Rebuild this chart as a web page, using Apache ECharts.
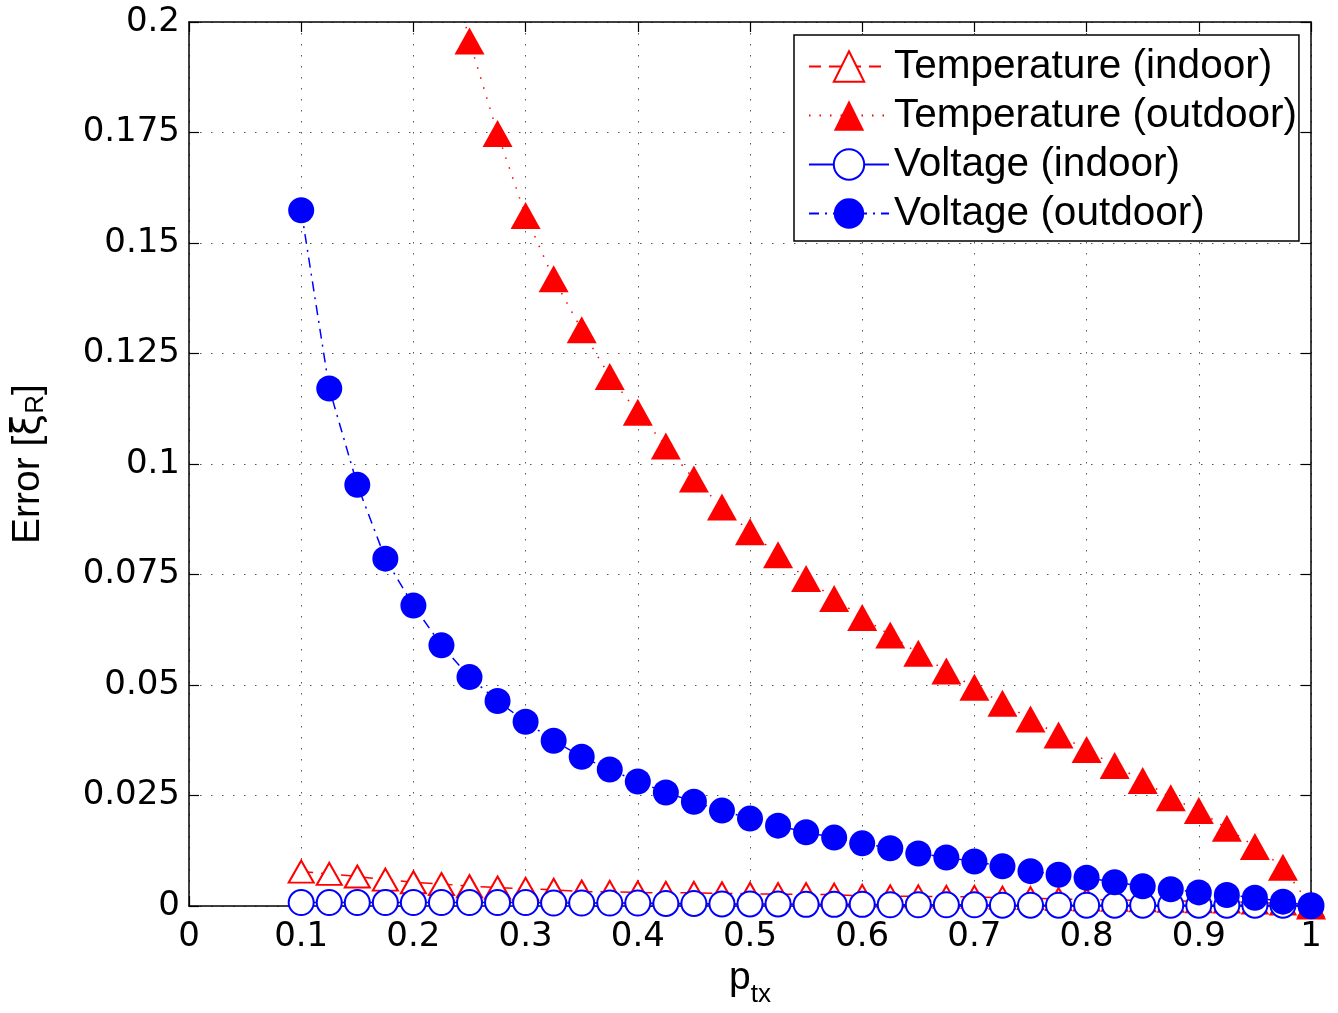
<!DOCTYPE html>
<html>
<head>
<meta charset="utf-8">
<script src="https://cdn.jsdelivr.net/npm/echarts@6/dist/echarts.min.js"></script>
<style>
html,body{margin:0;padding:0;background:#fff;overflow:hidden;}
#chart{width:1338px;height:1013px;}
</style>
</head>
<body>
<div id="chart"></div>
<script>
// ---- data ----
const pTx = [0.1,0.125,0.15,0.175,0.2,0.225,0.25,0.275,0.3,0.325,0.35,0.375,0.4,0.425,0.45,0.475,0.5,0.525,0.55,0.575,0.6,0.625,0.65,0.675,0.7,0.725,0.75,0.775,0.8,0.825,0.85,0.875,0.9,0.925,0.95,0.975,1.0];
const tempIndoor = [0.0078,0.0073,0.0067,0.0060,0.0054,0.0050,0.0045,0.0042,0.0039,0.0037,0.0033,0.0032,0.0031,0.0030,0.0030,0.0029,0.0028,0.0027,0.0027,0.0026,0.0023,0.0022,0.0022,0.0021,0.0021,0.0019,0.0018,0.0016,0.0015,0.0014,0.0013,0.0012,0.0011,0.0010,0.0008,0.0006,0.0002];
const tempOutdoor = [null,null,null,null,null,0.222,0.1957,0.1748,0.1562,0.1419,0.1304,0.1198,0.1117,0.1041,0.0966,0.0903,0.0847,0.0795,0.0741,0.0696,0.0653,0.0613,0.0572,0.0532,0.0495,0.0459,0.0423,0.0387,0.0354,0.0318,0.0284,0.0245,0.0216,0.0176,0.0135,0.0088,0.0];
const voltIndoor = [0.0008,0.0008,0.0008,0.0008,0.0008,0.0008,0.0008,0.0008,0.0008,0.0007,0.0007,0.0007,0.0007,0.0006,0.0006,0.0005,0.0005,0.0005,0.0004,0.0004,0.0004,0.0003,0.0003,0.0003,0.0003,0.0002,0.0002,0.0002,0.0002,0.0002,0.0002,0.0002,0.0002,0.0002,0.0002,0.0002,0.0001];
const voltOutdoor = [0.1574,0.1171,0.0953,0.0786,0.0680,0.0590,0.0518,0.0464,0.0417,0.0374,0.0338,0.0309,0.0282,0.0257,0.0236,0.0216,0.0198,0.0182,0.0167,0.0155,0.0142,0.0131,0.0119,0.0110,0.0101,0.0090,0.0079,0.0071,0.0064,0.0054,0.0045,0.0038,0.0031,0.0025,0.0019,0.0010,0.0];
const xTickLabels = ['0','0.1','0.2','0.3','0.4','0.5','0.6','0.7','0.8','0.9','1'];
const yTickLabels = ['0','0.025','0.05','0.075','0.1','0.125','0.15','0.175','0.2'];
const seriesNames = ['Temperature (indoor)','Temperature (outdoor)','Voltage (indoor)','Voltage (outdoor)'];

function pairs(ys){ return pTx.map((x,i)=>[x, ys[i]]); }

const FONT = "'Liberation Sans', Arial, Helvetica, sans-serif";
const TICKFONT = "'DejaVu Sans', sans-serif";
const TFS = 34;
const FS = 39;
const LFS = 40.5;
const chart = echarts.init(document.getElementById('chart'));

const gridLine = {show:true, lineStyle:{color:'#555', width:1, type:[1.5,9.5]}};
const boxAxisLine = {show:true, onZero:false, lineStyle:{color:'#000', width:1.5}};
const tickIn = {show:true, inside:true, length:10, lineStyle:{color:'#000', width:1.2}};

const option = {
  animation:false,
  backgroundColor:'#fff',
  grid:{left:189, right:27, top:22, bottom:104, containLabel:false},
  xAxis:[{
    type:'value', min:0, max:1, interval:0.1, position:'bottom',
    axisLine:boxAxisLine, axisTick:tickIn, splitLine:gridLine,
    axisLabel:{color:'#000', fontSize:TFS, fontFamily:TICKFONT, margin:14,
      formatter:(v)=>xTickLabels[Math.round(v*10)]},
    name:'{p|p}{s|tx}', nameLocation:'middle', nameGap:30,
    nameTextStyle:{rich:{
      p:{fontSize:FS, fontFamily:FONT, color:'#000', verticalAlign:'bottom'},
      s:{fontSize:26, fontFamily:FONT, color:'#000', verticalAlign:'bottom', padding:[0,0,-10,0]}
    }}
  },{
    type:'value', min:0, max:1, interval:0.1, position:'top',
    axisLine:boxAxisLine, axisTick:tickIn, splitLine:{show:false}, axisLabel:{show:false}
  }],
  yAxis:[{
    type:'value', min:0, max:0.2, interval:0.025, position:'left',
    axisLine:boxAxisLine, axisTick:tickIn, splitLine:gridLine,
    axisLabel:{color:'#000', fontSize:TFS, fontFamily:TICKFONT, margin:9,
      formatter:(v)=>yTickLabels[Math.round(v/0.025)]},
    name:'{a|Error [}{x|ξ}{r|R}{a|]}', nameLocation:'middle', nameGap:141, nameRotate:90,
    nameTextStyle:{rich:{
      a:{fontSize:FS, fontFamily:FONT, color:'#000'},
      x:{fontSize:FS, fontFamily:"'DejaVu Sans', sans-serif", color:'#000'},
      r:{fontSize:26, fontFamily:FONT, color:'#000', padding:[0,0,-14,0]}
    }}
  },{
    type:'value', min:0, max:0.2, interval:0.025, position:'right',
    axisLine:boxAxisLine, axisTick:tickIn, splitLine:{show:false}, axisLabel:{show:false}
  }],
  legend:{
    orient:'vertical', left:794, top:35,
    backgroundColor:'#fff', borderColor:'#000', borderWidth:1.5,
    padding:[11,2,7,14], itemGap:8,
    itemWidth:80, itemHeight:38,
    textStyle:{color:'#000', fontSize:LFS, fontFamily:FONT, lineHeight:38},
    data:seriesNames
  },
  series:[
    {
      name:seriesNames[0], type:'line', data:pairs(tempIndoor),
      symbol:'triangle', symbolSize:[25,22],
      lineStyle:{color:'#ff0000', width:1.5, type:[12,8]},
      itemStyle:{color:'#ffffff', borderColor:'#ff0000', borderWidth:2},
      z:2
    },
    {
      name:seriesNames[1], type:'line', data:pairs(tempOutdoor),
      symbol:'triangle', symbolSize:[30,27],
      lineStyle:{color:'#ff0000', width:1.5, type:[1.5,9]},
      itemStyle:{color:'#ff0000', borderWidth:0},
      z:3
    },
    {
      name:seriesNames[2], type:'line', data:pairs(voltIndoor),
      symbol:'circle', symbolSize:25,
      lineStyle:{color:'#0000ff', width:1.5, type:'solid'},
      itemStyle:{color:'#ffffff', borderColor:'#0000ff', borderWidth:2},
      z:4
    },
    {
      name:seriesNames[3], type:'line', data:pairs(voltOutdoor),
      symbol:'circle', symbolSize:26,
      lineStyle:{color:'#0000ff', width:1.5, type:[10,6,2,6]},
      itemStyle:{color:'#0000ff', borderWidth:0},
      z:5
    }
  ]
};
chart.setOption(option);
</script>
</body>
</html>
